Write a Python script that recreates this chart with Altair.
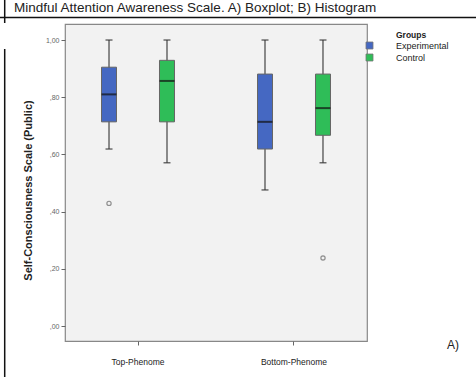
import altair as alt
import pandas as pd

# Box summaries (proportion scores) per phenome and group
phenome = ["Top-Phenome", "Top-Phenome", "Bottom-Phenome", "Bottom-Phenome"]
groups = ["Experimental", "Control", "Experimental", "Control"]
whisker_low = [0.619, 0.571, 0.476, 0.571]
q1 = [0.714, 0.714, 0.619, 0.667]
median = [0.810, 0.857, 0.714, 0.762]
q3 = [0.905, 0.929, 0.881, 0.881]
whisker_high = [1.00, 1.00, 1.00, 1.00]

# Outlying cases
out_phenome = ["Top-Phenome", "Bottom-Phenome"]
out_group = ["Experimental", "Control"]
out_value = [0.429, 0.238]

cat_order = ["Top-Phenome", "Bottom-Phenome"]
group_order = ["Experimental", "Control"]
group_colors = ["#4568c2", "#2fbd58"]

boxes = pd.DataFrame({
    "phenome": phenome, "group": groups, "lo": whisker_low, "q1": q1,
    "med": median, "q3": q3, "hi": whisker_high,
})
outliers = pd.DataFrame({"phenome": out_phenome, "group": out_group, "value": out_value})

x_enc = alt.X("phenome:N", sort=cat_order, title=None,
              scale=alt.Scale(paddingInner=0.2, paddingOuter=0.068),
              axis=alt.Axis(labelAngle=0, labelFontSize=8.5, labelColor="#222",
                            labelFont="Liberation Sans", labelPadding=12,
                            tickSize=4, tickColor="#666", domain=False))
xo_enc = alt.XOffset("group:N", sort=group_order,
                     scale=alt.Scale(paddingInner=0, paddingOuter=0.076))
y_scale = alt.Scale(domain=[-0.052, 1.056], nice=False, zero=False)

base = alt.Chart(boxes).encode(x=x_enc, xOffset=xo_enc)

whisker = base.mark_rule(color="#444", strokeWidth=1.2).encode(
    y=alt.Y("lo:Q", scale=y_scale, title="Self-Consciousness Scale (Public)",
            axis=alt.Axis(values=[0, 0.2, 0.4, 0.6, 0.8, 1.0],
                          labelExpr="datum.value >= 1 ? '1,00' : replace(format(datum.value, '.2f'), '0.', ',')",
                          labelFontSize=7, labelColor="#666", labelFont="Liberation Sans",
                          tickSize=4, tickColor="#666", domain=False, grid=False,
                          titleFont="Liberation Sans", titleFontSize=11,
                          titleFontWeight="bold", titleColor="#222", titlePadding=12,
                          titleY=166)),
    y2="hi:Q",
)
cap_low = base.mark_tick(color="#333", size=7, thickness=1.5).encode(y=alt.Y("lo:Q", scale=y_scale))
cap_high = base.mark_tick(color="#333", size=7, thickness=1.5).encode(y=alt.Y("hi:Q", scale=y_scale))

box = base.mark_bar(size=15, stroke="#666", strokeWidth=1).encode(
    y=alt.Y("q1:Q", scale=y_scale),
    y2="q3:Q",
    color=alt.Color("group:N", sort=group_order,
                    scale=alt.Scale(domain=group_order, range=group_colors),
                    legend=alt.Legend(title=None, orient="none", legendX=300, legendY=17,
                                      symbolType="square", symbolSize=49,
                                      symbolStrokeColor="#777", symbolStrokeWidth=0.8,
                                      labelFont="Liberation Sans", labelFontSize=9,
                                      labelColor="#222", labelOffset=22, rowPadding=1)),
)
med_line = base.mark_tick(color="#111", size=15, thickness=2).encode(y=alt.Y("med:Q", scale=y_scale))

pts = alt.Chart(outliers).mark_point(shape="circle", size=18, color="#666", strokeWidth=1.2).encode(
    x=alt.X("phenome:N", sort=cat_order), xOffset=alt.XOffset("group:N", sort=group_order),
    y=alt.Y("value:Q", scale=y_scale),
)

# Page decorations: heading, section marker, document rules
heading = alt.Chart(pd.DataFrame({"t": ["Mindful Attention Awareness Scale. A) Boxplot; B) Histogram"]})).mark_text(
    align="left", baseline="middle", font="Liberation Sans", fontSize=13.5, color="#222"
).encode(text="t:N", x=alt.value(-51), y=alt.value(-16))
legend_title = alt.Chart(pd.DataFrame({"t": ["Groups"]})).mark_text(
    align="left", baseline="middle", font="Liberation Sans", fontSize=8.5, fontWeight="bold", color="#222"
).encode(text="t:N", x=alt.value(331), y=alt.value(11))
panel_tag = alt.Chart(pd.DataFrame({"t": ["A)"]})).mark_text(
    align="left", baseline="middle", font="Liberation Sans", fontSize=12, color="#222"
).encode(text="t:N", x=alt.value(382), y=alt.value(321))
rule_h = alt.Chart(pd.DataFrame({"a": [0]})).mark_rule(color="#111", strokeWidth=1.5).encode(
    x=alt.value(-65), x2=alt.value(411), y=alt.value(-6.5))
rule_v1 = alt.Chart(pd.DataFrame({"a": [0]})).mark_rule(color="#111", strokeWidth=1.5).encode(
    x=alt.value(-60.3), y=alt.value(-24), y2=alt.value(-1))
rule_v2 = alt.Chart(pd.DataFrame({"a": [0]})).mark_rule(color="#111", strokeWidth=1.5).encode(
    x=alt.value(-60.3), y=alt.value(25), y2=alt.value(353))

chart = alt.layer(
    whisker, cap_low, cap_high, box, med_line, pts,
    heading, legend_title, panel_tag, rule_h, rule_v1, rule_v2,
).properties(
    width=302, height=317,
    padding={"left": 65, "top": 24, "right": 109, "bottom": 36},
    autosize=alt.AutoSizeParams(type="none"),
    background="white",
).configure_view(
    fill="#f2f2f2", stroke="#888", strokeWidth=1.2,
)

chart.save("out.html", embed_options={"renderer": "svg", "actions": False})
